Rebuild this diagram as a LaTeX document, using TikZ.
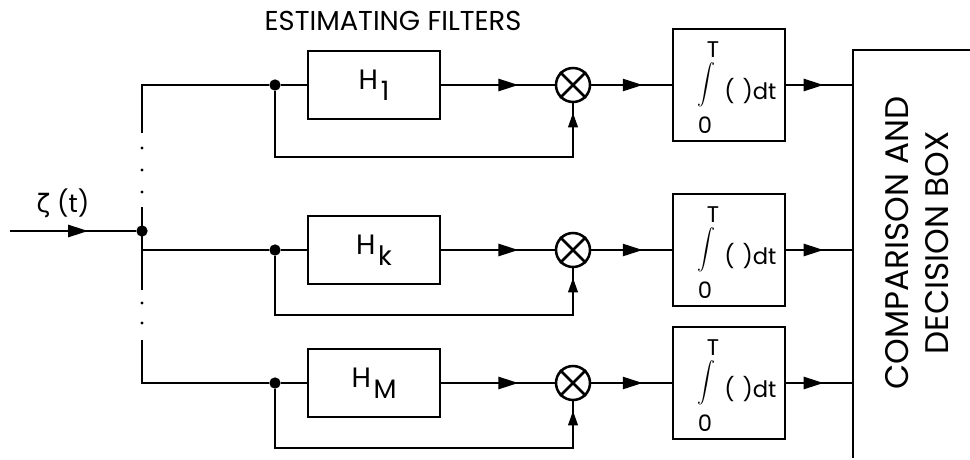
\documentclass[tikz,border=0pt]{standalone}
\usepackage{fontspec}
\usepackage{exscale}
\setmainfont{Poppins}
\newfontfamily\greekfont{DejaVu Sans}
\usetikzlibrary{decorations.markings,arrows.meta,calc}

\tikzset{
  wire/.style={line width=1.9pt},
  hbox/.style={draw, line width=1.9pt, rectangle, inner sep=0pt,
    minimum width=99pt, minimum height=51pt},
  intbox/.style={draw, line width=1.9pt, rectangle, inner sep=0pt,
    minimum width=84pt, minimum height=84pt},
  mult/.style={draw, line width=1.9pt, circle, inner sep=0pt, minimum size=25.5pt},
  jdot/.style={fill, circle, inner sep=0pt, minimum size=8.5pt},
  sdot/.style={fill, circle, inner sep=0pt, minimum size=2.4pt},
  midarrow/.style={postaction={decorate}, decoration={markings,
    mark=at position #1 with {\arrow{Triangle[length=15pt,width=9pt]}}}},
  uparrow/.style={postaction={decorate}, decoration={markings,
    mark=at position -7pt with {\arrow{Triangle[length=11pt,width=7pt]}}}},
  hlabel/.style={font=\fontsize{21}{21}\selectfont},
  itext/.style={inner sep=0pt, font=\fontsize{17}{17}\selectfont},
}

\newcommand{\hsub}[1]{H\kern2pt\raisebox{-8pt}{\fontsize{20}{20}\selectfont #1}}

\begin{document}
\begin{tikzpicture}[x=0.75pt,y=-0.75pt]
\useasboundingbox (0,0) rectangle (970,460);

% title
\node[font=\fontsize{20.5}{20.5}\selectfont] (title) at (393,21) {ESTIMATING FILTERS};

% input signal
\coordinate (in) at (10,231);
\node[jdot] (J0) at (142,231) {};
\node[font=\fontsize{19}{19}\selectfont] (zeta) at (63,203) {{\greekfont ζ} (t)};
\draw[wire, midarrow=0.62] (in) -- (J0);

% distribution bus with elided branches
\coordinate (B1t) at (142,133);
\coordinate (B2t) at (142,207);
\coordinate (B2b) at (142,290);
\coordinate (B3t) at (142,340);
\foreach \yy [count=\i] in {148,170,192,303,323}
  \node[sdot] (bd\i) at (142,\yy) {};
\draw[wire] (B2t) -- (B2b);

% three filter branches: row y, feedback y, subscript
\foreach \r/\yy/\fb/\lab in {1/85/157/1, 2/250/315/k, 3/383/448/M}{
  \node[jdot] (J\r) at (275,\yy) {};
  \node[hbox] (H\r) at (374,\yy) {};
  \node[hlabel] (HL\r) at (H\r.center) {\hsub{\lab}};
  \node[mult] (M\r) at (573,\yy) {};
  \draw[line width=1.9pt] (M\r.north east) -- (M\r.south west)
                          (M\r.north west) -- (M\r.south east);
  \node[intbox] (I\r) at (729,\yy) {};
  \node[itext] (T\r) at ($(I\r.center)+(-16,-35)$) {T};
  \node[inner sep=0pt] (S\r) at ($(I\r.center)+(-23,0)$)
    {\scalebox{1.35}[1.5]{$\displaystyle\int$}};
  \node[itext, anchor=west] (D\r) at ($(I\r.center)+(-5,6)$) {(\hspace{6pt})dt};
  \node[itext] (Z\r) at ($(I\r.center)+(-24,40)$) {0};
  \coordinate (F\r) at (275,\fb);
  % signal path
  \draw[wire] (J\r) -- (H\r.west);
  \draw[wire, midarrow=0.68] (H\r.east) -- (M\r.west);
  \draw[wire, midarrow=0.64] (M\r.east) -- (I\r.west);
  \draw[wire, midarrow=0.56] (I\r.east) -- (853,\yy);
  % feedback of the received signal into the multiplier
  \draw[wire, uparrow] (J\r) -- (F\r) -| (M\r.south);
}

% bus stubs to each branch
\draw[wire] (B1t) |- (J1);
\draw[wire] (142,250) -- (J2);
\draw[wire] (B3t) |- (J3);

% comparison and decision box (runs off the right and bottom edges)
\coordinate (CBbot) at (853,458);
\coordinate (CBtop) at (970,50);
\draw[wire] (CBbot) |- (CBtop);
\node[rotate=90, align=center, font=\fontsize{24.5}{30}\selectfont] (cmp) at (917,243)
  {COMPARISON AND\\DECISION BOX};
\end{tikzpicture}
\end{document}
